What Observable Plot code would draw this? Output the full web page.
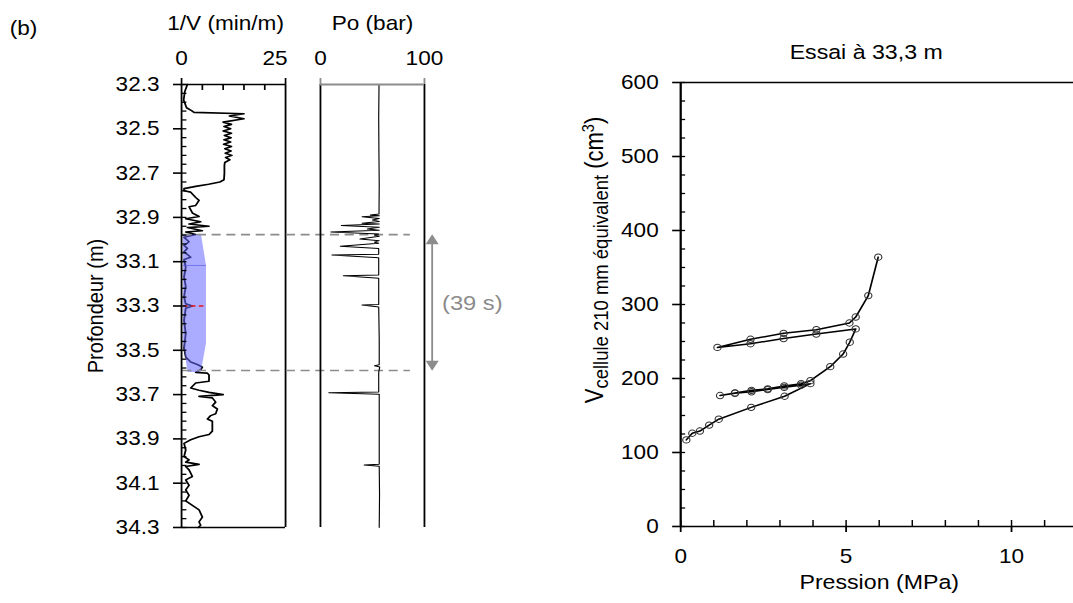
<!DOCTYPE html>
<html>
<head>
<meta charset="utf-8">
<script src="https://cdn.jsdelivr.net/npm/d3@7"></script>
<script src="https://cdn.jsdelivr.net/npm/@observablehq/plot@0.6"></script>
<style>
html, body { margin: 0; padding: 0; background: #fff; overflow: hidden; width: 1073px; height: 603px; }
#stage { position: absolute; left: 0; top: 0; height: 603px; transform-origin: 0 0; }
#stage > svg { position: absolute; top: 0; overflow: visible; max-width: none; }
</style>
</head>
<body>
<div id="stage"></div>
<script>
// ---------------- data ----------------
const panelLabel = "(b)";
const invVTitle = "1/V (min/m)";
const poTitle = "Po (bar)";
const depthTitle = "Profondeur (m)";
const testTitle = "Essai à 33,3 m";
const pressTitle = "Pression (MPa)";
const durationLabel = "(39 s)";

const depthTicks = [32.3, 32.5, 32.7, 32.9, 33.1, 33.3, 33.5, 33.7, 33.9, 34.1, 34.3];
const invVTicks = [0, 25];
const invVMinor = [5, 10, 15, 20];
const poTicks = [0, 100];
const pressTicks = [0, 5, 10];
const pressMinor = [1, 2, 3, 4, 6, 7, 8, 9, 11, 12];
const volTicks = [0, 100, 200, 300, 400, 500, 600];

// 1/V log (depth in m, 1/V in min/m)
const invVDepth = [32.300, 32.330, 32.370, 32.405, 32.418, 32.426, 32.432, 32.442, 32.455, 32.470,
  32.480, 32.490, 32.500, 32.510, 32.520, 32.530, 32.540, 32.550, 32.560, 32.570,
  32.580, 32.590, 32.600, 32.610, 32.620, 32.630, 32.640, 32.652, 32.665, 32.700,
  32.730, 32.740, 32.750, 32.760, 32.770, 32.780, 32.786, 32.810, 32.823, 32.846,
  32.852, 32.880, 32.896, 32.906, 32.920, 32.930, 32.940, 32.946, 32.960, 32.966,
  32.977, 32.990, 33.010, 33.027, 33.040, 33.055, 33.080, 33.090, 33.125, 33.170,
  33.210, 33.260, 33.290, 33.300, 33.310, 33.365, 33.425, 33.490, 33.530, 33.553,
  33.564, 33.576, 33.588, 33.600, 33.603, 33.612, 33.640, 33.648, 33.670, 33.680,
  33.690, 33.700, 33.708, 33.715, 33.734, 33.750, 33.765, 33.787, 33.795, 33.810,
  33.820, 33.865, 33.880, 33.890, 33.904, 33.920, 33.950, 33.980, 33.995, 34.005,
  34.015, 34.025, 34.040, 34.070, 34.085, 34.110, 34.130, 34.155, 34.180, 34.200,
  34.220, 34.253, 34.275, 34.290, 34.300];
const invV = [1.4, 0.8, 0.5, 1.2, 2.4, 3.0, 15.0, 11.5, 15.0, 10.0,
  12.0, 10.2, 11.8, 10.0, 12.0, 10.3, 11.9, 10.2, 11.8, 10.1,
  12.0, 10.4, 11.9, 10.5, 12.1, 10.6, 11.6, 10.4, 10.3, 10.3,
  10.2, 9.2, 6.5, 3.4, 0.6, 0.6, 2.2, 3.4, 4.2, 3.4,
  1.8, 2.6, 4.2, 1.0, 4.6, 1.8, 6.6, 1.4, 5.0, 1.0,
  3.4, 0.6, 1.8, 0.6, 1.4, 0.6, 2.2, 0.6, 1.0, 0.6,
  1.0, 0.6, 1.0, 2.6, 1.0, 0.6, 1.0, 0.6, 1.0, 2.2,
  3.8, 5.0, 4.6, 3.4, 6.2, 6.6, 6.6, 3.4, 2.2, 4.2,
  6.6, 10.0, 4.2, 7.4, 8.2, 7.4, 8.6, 8.2, 7.0, 6.2,
  7.4, 7.4, 6.6, 4.2, 2.2, 0.6, 1.0, 0.6, 1.8, 1.0,
  4.2, 1.0, 1.8, 2.6, 1.0, 1.8, 1.0, 1.8, 1.0, 2.6,
  4.2, 5.0, 4.2, 4.6, 4.0];

// Po log (depth in m, Po in bar)
const poDepth = [32.300, 32.450, 32.600, 32.750, 32.885, 32.889, 32.893, 32.897, 32.905, 32.912,
  32.918, 32.926, 32.930, 32.937, 32.945, 32.952, 32.958, 32.966, 32.975, 32.980,
  32.985, 32.998, 33.005, 33.012, 33.017, 33.030, 33.040, 33.066, 33.070, 33.082,
  33.160, 33.163, 33.175, 33.293, 33.296, 33.305, 33.450, 33.565, 33.570, 33.575,
  33.600, 33.688, 33.692, 33.698, 33.850, 34.015, 34.018, 34.024, 34.150, 34.300];
const po = [56.3, 56.0, 56.2, 56.5, 56.3, 48, 56.5, 40, 56.5, 50,
  56.5, 40, 56.5, 20, 56.5, 45, 56.5, 10, 56.0, 52,
  56.5, 38, 56.5, 52, 56.0, 19, 56.0, 56.0, 11, 56.0,
  56.0, 22, 56.0, 56.0, 40, 56.0, 56.5, 56.5, 52, 57.0,
  56.0, 56.0, 8, 56.5, 56.5, 56.5, 42, 56.5, 56.8, 56.5];

// shaded test window on the 1/V log
const shadeDepth = [32.98, 33.117, 33.47, 33.60];
const shadeLeft = [0.5, 0.5, 0.5, 1.6];
const shadeRight = [4.8, 6.0, 6.0, 4.75];
const shadeSplit = 33.117;
const testDepth = 33.3;
const windowDepths = [32.978, 33.591];

// pressuremeter curve
const pressure = [0.17, 0.35, 0.58, 0.86, 1.15, 2.13, 3.14, 3.92, 3.64, 3.13,
  2.63, 2.14, 1.64, 1.19, 1.64, 2.14, 2.63, 3.13, 3.64, 3.92,
  4.52, 4.91, 5.11, 5.29, 4.10, 3.11, 2.11, 1.11, 2.11, 3.11,
  4.10, 5.10, 5.29, 5.67, 5.97];
const volume = [117, 126, 129, 137, 145, 161, 176, 193, 191, 188,
  185, 182, 180, 177, 180.5, 184, 186, 190, 193, 197,
  216, 233, 249, 267, 260, 254, 247, 242, 253, 261,
  266, 275, 283, 312, 364];

// ---------------- layout helpers ----------------
const S = 1.13;                 // the original figure is stretched horizontally
const X = px => px / S;
const FONT = "'Liberation Sans', Arial, Helvetica, sans-serif";
const stage = document.getElementById("stage");
stage.style.width = (1073 / S) + "px";
stage.style.transform = `scaleX(${S})`;

const dpx = 2 / 443;            // depth units per pixel
const depthMinor = d3.range(0, 51).map(i => +(32.3 + i * 0.04).toFixed(2));
const volMinor = d3.range(0, 601, 25);

const invVRows = invVDepth.map((d, i) => ({d, v: invV[i]}));
const poRows = poDepth.map((d, i) => ({d, p: po[i]}));
const shadeRows = shadeDepth.map((d, i) => ({d, x1: shadeLeft[i], x2: shadeRight[i]}));
const curveRows = pressure.map((p, i) => ({p, v: volume[i]}));

const baseStyle = {fontFamily: FONT, fontSize: "20px", color: "black", background: "transparent", overflow: "visible"};
const gray = "#8c8c8c";

function place(svg, leftPx) {
  svg.style.left = X(leftPx) + "px";
  stage.appendChild(svg);
}

// ---------------- panel 1 : 1/V ----------------
const p1 = Plot.plot({
  width: X(300), height: 603,
  marginLeft: X(181), marginRight: X(15), marginTop: 84, marginBottom: 76,
  style: baseStyle,
  x: {domain: [0, 25], axis: null},
  y: {domain: [32.3, 34.3], reverse: true, axis: null},
  marks: [
    Plot.line(invVRows, {x: "v", y: "d", stroke: "black", strokeWidth: 1.6}),
    Plot.areaX(shadeRows, {y: "d", x1: "x1", x2: "x2", fill: "#6666ff", fillOpacity: 0.55}),
    Plot.ruleY([shadeSplit], {x1: 0.5, x2: 6.0, stroke: "#5050e0", strokeOpacity: 0.6, strokeWidth: 1}),
    Plot.ruleY([testDepth], {x1: 0.5, x2: 6.0, stroke: "#e8141c", strokeWidth: 1.5, strokeDasharray: "4,3"}),
    Plot.ruleY(windowDepths, {x1: 0.3, x2: 25, stroke: gray, strokeWidth: 1.6, strokeDasharray: "8,5"}),
    Plot.ruleX([0, 25], {y1: 32.3, y2: 34.3, stroke: "black", strokeWidth: 1.6}),
    Plot.ruleY([32.3, 34.3], {x1: 0, x2: 25, stroke: "black", strokeWidth: 1.6}),
    Plot.ruleX(invVMinor, {y1: 32.3, y2: 32.3 + 6 * dpx, stroke: "black", strokeWidth: 1.5}),
    Plot.ruleX(invVTicks, {y1: 32.3 - 6 * dpx, y2: 32.3, stroke: "black", strokeWidth: 1.5}),
    Plot.ruleY(depthMinor, {x1: 0, x2: 1.3, stroke: "black", strokeWidth: 1.3}),
    Plot.axisY({ticks: depthTicks, tickFormat: d => d.toFixed(1), tickSize: X(8), tickPadding: X(14), label: null, strokeWidth: 1.6, fontSize: 20}),
    Plot.text([invVTicks[0]], {x: d => d, frameAnchor: "top", lineAnchor: "bottom", textAnchor: "middle", dy: -19, text: d => String(d), fontSize: 20}),
    Plot.text([invVTicks[1]], {x: d => d, frameAnchor: "top", lineAnchor: "bottom", textAnchor: "end", dx: X(2), dy: -19, text: d => String(d), fontSize: 20}),
    Plot.text([invVTitle], {frameAnchor: "top", lineAnchor: "middle", textAnchor: "middle", dx: X(-8), dy: -61, fontSize: 20}),
    Plot.text([depthTitle], {frameAnchor: "left", textAnchor: "middle", lineAnchor: "middle", rotate: -90, dx: X(95 - 181), fontSize: 20}),
    Plot.text([panelLabel], {frameAnchor: "top-left", textAnchor: "middle", lineAnchor: "middle", dx: X(23 - 181), dy: 28 - 84, fontSize: 20})
  ]
});
place(p1, 0);

// ---------------- panel 2 : Po ----------------
const arrowX = 107.4;
const p2 = Plot.plot({
  width: X(280), height: 603,
  marginLeft: X(60), marginRight: X(116), marginTop: 84, marginBottom: 76,
  style: baseStyle,
  x: {domain: [0, 100], axis: null},
  y: {domain: [32.3, 34.3], reverse: true, axis: null},
  marks: [
    Plot.ruleY(windowDepths, {x1: -32.7, x2: 86.5, stroke: gray, strokeWidth: 1.6, strokeDasharray: "8,5"}),
    Plot.line(poRows, {x: "p", y: "d", stroke: "black", strokeWidth: 1}),
    Plot.ruleX(poTicks, {y1: 32.3, y2: 34.3, stroke: "black", strokeWidth: 1.6}),
    Plot.ruleY([32.3], {x1: 0, x2: 100, stroke: gray, strokeWidth: 2}),
    Plot.ruleX(poTicks, {y1: 32.3 - 6 * dpx, y2: 32.3, stroke: gray, strokeWidth: 1.6}),
    Plot.text(poTicks, {x: d => d, frameAnchor: "top", lineAnchor: "bottom", textAnchor: "middle", dy: -19, text: d => String(d), fontSize: 20}),
    Plot.text([poTitle], {frameAnchor: "top", lineAnchor: "middle", textAnchor: "middle", dy: -61, fontSize: 20}),
    Plot.ruleX([arrowX], {y1: windowDepths[0] + 8 * dpx, y2: windowDepths[1] - 8 * dpx, stroke: gray, strokeWidth: 1.6}),
    Plot.dot([windowDepths[0]], {x: () => arrowX, y: d => d + 6.3 * dpx, symbol: "triangle", r: 4.3, fill: gray, stroke: "none"}),
    Plot.dot([windowDepths[1]], {x: () => arrowX, y: d => d - 6.3 * dpx, symbol: "triangle", r: 4.3, rotate: 180, fill: gray, stroke: "none"}),
    Plot.text([durationLabel], {x: () => 146, y: () => 33.286, text: d => d, fill: gray, fontSize: 21, textAnchor: "middle", lineAnchor: "middle"})
  ]
});
place(p2, 260);

// ---------------- panel 3 : pressuremeter curve ----------------
const ppx = 12 / 397;   // MPa per pixel
const vpx = 600 / 444;  // cm3 per pixel
const p3 = Plot.plot({
  width: X(540), height: 603,
  marginLeft: X(140), marginRight: X(3), marginTop: 82, marginBottom: 77,
  style: baseStyle,
  x: {domain: [0, 12], axis: null},
  y: {domain: [0, 600], axis: null},
  marks: [
    Plot.ruleY([0, 600], {stroke: "black", strokeWidth: 1.6}),
    Plot.ruleX([0], {stroke: "black", strokeWidth: 2}),
    Plot.ruleY(volMinor, {x1: 0, x2: 5 * ppx, stroke: "black", strokeWidth: 1.3}),
    Plot.ruleX(pressTicks.concat(pressMinor), {y1: 0, y2: 6 * vpx, stroke: "black", strokeWidth: 1.3}),
    Plot.axisY({ticks: volTicks, tickSize: X(8), tickPadding: X(14), label: null, strokeWidth: 1.6, fontSize: 20}),
    Plot.axisX({ticks: pressTicks, tickSize: 6, tickPadding: 16, label: null, strokeWidth: 1.6, fontSize: 20}),
    Plot.line(curveRows, {x: "p", y: "v", stroke: "black", strokeWidth: 1.5}),
    Plot.dot(curveRows, {x: "p", y: "v", r: 3.2, stroke: "#333", strokeWidth: 1, fill: "none"}),
    Plot.text([testTitle], {frameAnchor: "top", lineAnchor: "middle", textAnchor: "middle", dx: X(-13), dy: -30, fontSize: 20.5}),
    Plot.text([pressTitle], {frameAnchor: "bottom", lineAnchor: "middle", textAnchor: "middle", dy: 56, fontSize: 20.5})
  ]
});
place(p3, 540);

// rich y-axis label: V with subscript and cm with superscript
const lab = d3.select(p3).append("text")
  .attr("transform", `translate(${X(603 - 540)},260) rotate(-90)`)
  .attr("text-anchor", "middle")
  .attr("font-family", FONT)
  .attr("font-size", 22)
  .attr("fill", "black");
lab.append("tspan").text("V");
lab.append("tspan").attr("font-size", 18.5).attr("dy", 4).text("cellule 210 mm équivalent");
lab.append("tspan").attr("font-size", 22).attr("dy", -4).text(" (cm");
lab.append("tspan").attr("font-size", 14.5).attr("dy", -8).text("3");
lab.append("tspan").attr("font-size", 22).attr("dy", 8).text(")");
</script>
</body>
</html>
